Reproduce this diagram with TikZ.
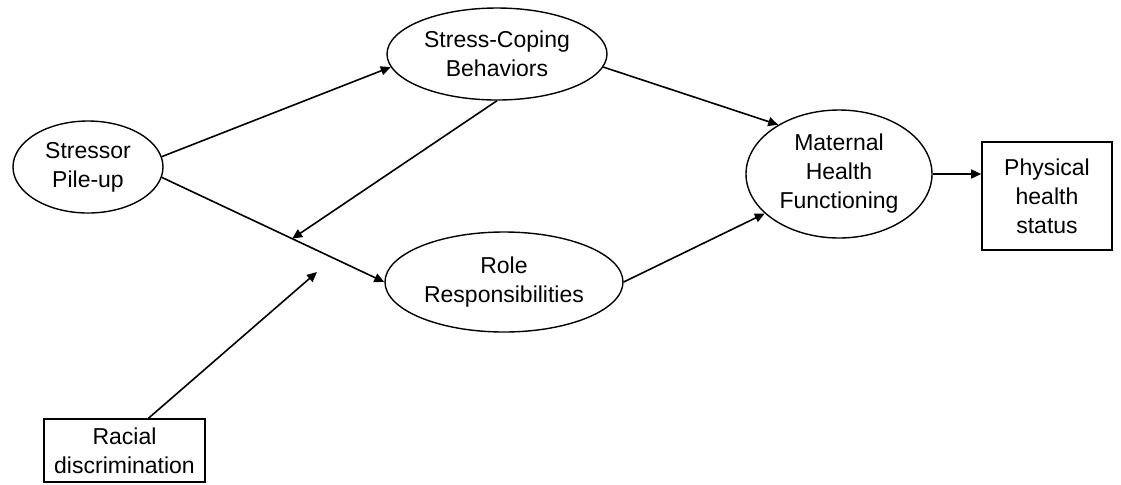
\documentclass[tikz,border=0pt]{standalone}
\usepackage{fontspec}
\setmainfont{Liberation Sans}
\usetikzlibrary{shapes.geometric,arrows.meta,calc}

\begin{document}
\begin{tikzpicture}[x=0.5pt,y=-0.5pt,
  every node/.style={font=\fontsize{11.5}{14.5}\selectfont,align=center,inner sep=0pt},
  factor/.style={draw,ellipse,line width=0.7pt},
  measure/.style={draw,rectangle,line width=0.8pt},
  link/.style={line width=0.8pt,-{Triangle[length=5pt,width=4.5pt]}}]
\useasboundingbox (0,0) rectangle (1121,484);
\node[factor,minimum width=75pt,minimum height=46pt] (stressor) at (88,167) {Stressor\\Pile-up};
\node[factor,minimum width=110pt,minimum height=46pt] (coping) at (497,54) {Stress-Coping\\Behaviors};
\node[factor,minimum width=119pt,minimum height=50pt] (role) at (504,282) {Role\\Responsibilities};
\node[factor,minimum width=93pt,minimum height=64pt] (maternal) at (839,174) {Maternal\\Health\\Functioning};
\node[measure,minimum width=65pt,minimum height=54pt] (physical) at (1047,196) {Physical\\health\\status};
\node[measure,minimum width=80.5pt,minimum height=31.5pt] (racial) at (124.5,450.5) {Racial\\discrimination};
\coordinate (meet) at ($(stressor.-8)!0.586!(role.west)$);
\coordinate (moderate) at (317,272);
\draw[link] (stressor.8) -- (coping.187);
\draw[link] (stressor.-8) -- (role.west);
\draw[link] (coping.south) -- (meet);
\draw[link] ([xshift=12pt]racial.north) -- (moderate);
\draw[link] (coping.-7) -- (maternal.141);
\draw[link] (role.east) -- (maternal.208);
\draw[link] (maternal.east) -- (maternal.east -| physical.west);
\end{tikzpicture}
\end{document}
